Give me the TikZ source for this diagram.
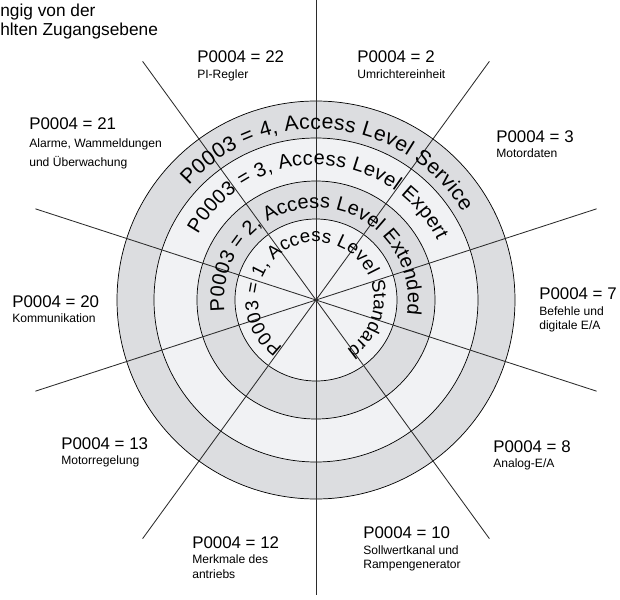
\documentclass[tikz,border=0pt]{standalone}
\usepackage{fontspec}
\setmainfont{Liberation Sans}
\usepackage{xcolor}
\usepackage{tikz}
\usetikzlibrary{positioning,decorations.text}
\definecolor{bandgray}{HTML}{DCDDE0}
\definecolor{bandlight}{HTML}{F1F2F4}
\definecolor{spokegray}{HTML}{2B2B2B}
\tikzset{
  ring/.style={draw=black,line width=0.5pt},
  spoke/.style={draw=spokegray,line width=0.6pt},
  partitle/.style={inner sep=0pt,anchor=base west,font=\fontsize{12}{13}\selectfont},
  pardesc/.style={inner sep=0pt,align=left,font=\fontsize{8.6}{10.3}\selectfont},
  headline/.style={inner sep=0pt,anchor=base west,font=\fontsize{12.3}{14}\selectfont},
  arctext/.style 2 args={decorate,decoration={text along path,text align=fit to path,text={|\fontsize{#1}{17}\selectfont|#2}}}
}

\begin{document}
\begin{tikzpicture}[x=0.025cm,y=0.025cm]
  \useasboundingbox (-316,-300) rectangle (304,300);
  \coordinate (c) at (0,0);
  % Zugangsebenen
  \fill[bandgray] (c) circle[radius=199];
  \fill[bandlight] (c) circle[radius=162];
  \fill[bandgray] (c) circle[radius=119];
  \fill[bandlight] (c) circle[radius=81];
  \draw[ring] (c) circle[radius=199];
  \draw[ring] (c) circle[radius=162];
  \draw[ring] (c) circle[radius=119];
  \draw[ring] (c) circle[radius=81];
  % Parametergruppen
  \foreach \a in {18,54,126,162,198,234,270,306,342}
    \draw[spoke] (c) -- (\a:295);
  \draw[spoke] (c) -- (90:300);
  \fill[spokegray] (c) circle[radius=1.6];
  \path[arctext={15}{P0003 = 4, Access Level Service}] (138:171) arc[start angle=138,end angle=31,radius=171];
  \path[arctext={14.2}{P0003 = 3, Access Level Expert}] (151:135) arc[start angle=151,end angle=26,radius=135];
  \path[arctext={14.2}{P0003 = 2, Access Level Extended}] (187:92) arc[start angle=187,end angle=-9,radius=92];
  \path[arctext={13.3}{P0003 = 1, Access Level Standard}] (235:58) arc[start angle=235,end angle=-58,radius=58];
  % Beschriftung
  \node[headline] (h1) at (-316,284) {ngig von der};
  \node[headline] (h2) at (-316,265) {hlten Zugangsebene};
  \node[partitle] (t22) at (-119,238) {P0004 = 22};
  \node[pardesc, below=4.8pt of t22.south west, anchor=north west] (d22) {PI-Regler};
  \node[partitle] (t2) at (41,238) {P0004 = 2};
  \node[pardesc, below=4.8pt of t2.south west, anchor=north west] (d2) {Umrichtereinheit};
  \node[partitle] (t21) at (-287,171) {P0004 = 21};
  \node[pardesc, below=6.5pt of t21.south west, anchor=north west] (d21) {Alarme, Wammeldungen\\[3.2pt]und Überwachung};
  \node[partitle] (t3) at (180,158) {P0004 = 3};
  \node[pardesc, below=4.5pt of t3.south west, anchor=north west] (d3) {Motordaten};
  \node[partitle] (t20) at (-304,-7) {P0004 = 20};
  \node[pardesc, below=4.5pt of t20.south west, anchor=north west] (d20) {Kommunikation};
  \node[partitle] (t7) at (223,1) {P0004 = 7};
  \node[pardesc, below=4.8pt of t7.south west, anchor=north west] (d7) {Befehle und\\digitale E/A};
  \node[partitle] (t13) at (-255,-149) {P0004 = 13};
  \node[pardesc, below=4pt of t13.south west, anchor=north west] (d13) {Motorregelung};
  \node[partitle] (t8) at (177,-152) {P0004 = 8};
  \node[pardesc, below=4.5pt of t8.south west, anchor=north west] (d8) {Analog-E/A};
  \node[partitle] (t12) at (-124,-248) {P0004 = 12};
  \node[pardesc, below=4.5pt of t12.south west, anchor=north west] (d12) {Merkmale des\\antriebs};
  \node[partitle] (t10) at (47,-238) {P0004 = 10};
  \node[pardesc, below=4.8pt of t10.south west, anchor=north west] (d10) {Sollwertkanal und\\Rampengenerator};
\end{tikzpicture}
\end{document}
